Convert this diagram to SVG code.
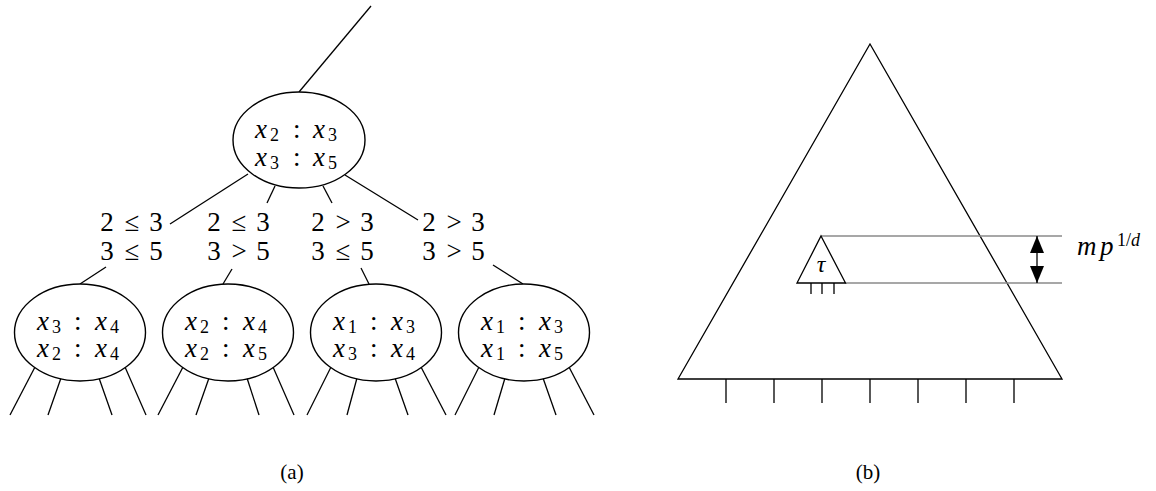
<svg xmlns="http://www.w3.org/2000/svg" width="1156" height="491" viewBox="0 0 1156 491">
<style>
.ln{stroke:#000;stroke-width:1.3;fill:none}
.el{stroke:#000;stroke-width:1.4;fill:#fff}
.gr{stroke:#8a8a8a;stroke-width:1.3;fill:none}
.t{font-family:"Liberation Serif","DejaVu Serif",serif;font-size:27px;fill:#000}
.v{font-style:italic}
.s{font-size:18px}
.c{font-family:"Liberation Serif","DejaVu Serif",serif;font-size:21px;fill:#000}
</style>
<defs>
<marker id="ah" viewBox="0 0 17 14" refX="17" refY="7" markerWidth="17" markerHeight="14" markerUnits="userSpaceOnUse" orient="auto-start-reverse">
<path d="M0,0 L17,7 L0,14 Z" fill="#000"/>
</marker>
</defs>
<g id="connectors">
<line class="ln" x1="371" y1="6" x2="299" y2="92"/>
<line class="ln" x1="248" y1="174" x2="170" y2="224"/>
<line class="ln" x1="275" y1="186" x2="267" y2="203"/>
<line class="ln" x1="323" y1="186" x2="332" y2="203"/>
<line class="ln" x1="345" y1="175" x2="418" y2="220"/>
<line class="ln" x1="106" y1="267" x2="80" y2="284"/>
<line class="ln" x1="232" y1="269" x2="223" y2="284"/>
<line class="ln" x1="361" y1="268" x2="369" y2="284"/>
<line class="ln" x1="493" y1="265" x2="523" y2="284"/>
<g id="leaves">
<line class="ln" x1="35" y1="367" x2="10" y2="415"/><line class="ln" x1="61" y1="378" x2="48" y2="415"/><line class="ln" x1="99" y1="378" x2="112" y2="415"/><line class="ln" x1="125" y1="367" x2="146" y2="415"/>
<line class="ln" x1="183" y1="367" x2="158" y2="415"/><line class="ln" x1="209" y1="378" x2="196" y2="415"/><line class="ln" x1="247" y1="378" x2="259" y2="415"/><line class="ln" x1="273" y1="367" x2="294" y2="415"/>
<line class="ln" x1="331" y1="367" x2="307" y2="415"/><line class="ln" x1="357" y1="378" x2="347" y2="415"/><line class="ln" x1="395" y1="378" x2="408" y2="415"/><line class="ln" x1="421" y1="367" x2="446" y2="415"/>
<line class="ln" x1="479" y1="367" x2="455" y2="415"/><line class="ln" x1="505" y1="378" x2="494" y2="415"/><line class="ln" x1="543" y1="378" x2="556" y2="415"/><line class="ln" x1="569" y1="367" x2="594" y2="415"/>
</g>
</g>
<g id="root">
<ellipse class="el" cx="299" cy="140" rx="66" ry="48"/>
<text class="t"><tspan class="v" x="255" y="138">x</tspan><tspan class="s" x="270" y="141">2</tspan><tspan x="293" y="138">:</tspan><tspan class="v" x="313" y="138">x</tspan><tspan class="s" x="328" y="141">3</tspan></text>
<text class="t"><tspan class="v" x="255" y="166">x</tspan><tspan class="s" x="270" y="169">3</tspan><tspan x="293" y="166">:</tspan><tspan class="v" x="313" y="166">x</tspan><tspan class="s" x="328" y="169">5</tspan></text>
</g>
<g id="label1" class="t" text-anchor="middle">
<text><tspan x="107" y="231">2</tspan><tspan x="132" y="231">≤</tspan><tspan x="156" y="231">3</tspan></text>
<text><tspan x="107" y="260">3</tspan><tspan x="132" y="260">≤</tspan><tspan x="156" y="260">5</tspan></text>
</g>
<g id="label2" class="t" text-anchor="middle">
<text><tspan x="214" y="231">2</tspan><tspan x="239" y="231">≤</tspan><tspan x="263" y="231">3</tspan></text>
<text><tspan x="214" y="260">3</tspan><tspan x="239" y="260">&gt;</tspan><tspan x="263" y="260">5</tspan></text>
</g>
<g id="label3" class="t" text-anchor="middle">
<text><tspan x="318" y="231">2</tspan><tspan x="343" y="231">&gt;</tspan><tspan x="367" y="231">3</tspan></text>
<text><tspan x="318" y="260">3</tspan><tspan x="343" y="260">≤</tspan><tspan x="367" y="260">5</tspan></text>
</g>
<g id="label4" class="t" text-anchor="middle">
<text><tspan x="429" y="231">2</tspan><tspan x="454" y="231">&gt;</tspan><tspan x="478" y="231">3</tspan></text>
<text><tspan x="429" y="260">3</tspan><tspan x="454" y="260">&gt;</tspan><tspan x="478" y="260">5</tspan></text>
</g>
<g id="child1">
<ellipse class="el" cx="80" cy="332.5" rx="65.5" ry="48.5"/>
<text class="t"><tspan class="v" x="37" y="330">x</tspan><tspan class="s" x="52" y="333">3</tspan><tspan x="74" y="330">:</tspan><tspan class="v" x="95" y="330">x</tspan><tspan class="s" x="110" y="333">4</tspan></text>
<text class="t"><tspan class="v" x="37" y="357">x</tspan><tspan class="s" x="52" y="360">2</tspan><tspan x="74" y="357">:</tspan><tspan class="v" x="95" y="357">x</tspan><tspan class="s" x="110" y="360">4</tspan></text>
</g>
<g id="child2">
<ellipse class="el" cx="228" cy="332.5" rx="65.5" ry="48.5"/>
<text class="t"><tspan class="v" x="185" y="330">x</tspan><tspan class="s" x="200" y="333">2</tspan><tspan x="222" y="330">:</tspan><tspan class="v" x="243" y="330">x</tspan><tspan class="s" x="258" y="333">4</tspan></text>
<text class="t"><tspan class="v" x="185" y="357">x</tspan><tspan class="s" x="200" y="360">2</tspan><tspan x="222" y="357">:</tspan><tspan class="v" x="243" y="357">x</tspan><tspan class="s" x="258" y="360">5</tspan></text>
</g>
<g id="child3">
<ellipse class="el" cx="376" cy="332.5" rx="65.5" ry="48.5"/>
<text class="t"><tspan class="v" x="333" y="330">x</tspan><tspan class="s" x="348" y="333">1</tspan><tspan x="370" y="330">:</tspan><tspan class="v" x="391" y="330">x</tspan><tspan class="s" x="406" y="333">3</tspan></text>
<text class="t"><tspan class="v" x="333" y="357">x</tspan><tspan class="s" x="348" y="360">3</tspan><tspan x="370" y="357">:</tspan><tspan class="v" x="391" y="357">x</tspan><tspan class="s" x="406" y="360">4</tspan></text>
</g>
<g id="child4">
<ellipse class="el" cx="524" cy="332.5" rx="65.5" ry="48.5"/>
<text class="t"><tspan class="v" x="481" y="330">x</tspan><tspan class="s" x="496" y="333">1</tspan><tspan x="518" y="330">:</tspan><tspan class="v" x="539" y="330">x</tspan><tspan class="s" x="554" y="333">3</tspan></text>
<text class="t"><tspan class="v" x="481" y="357">x</tspan><tspan class="s" x="496" y="360">1</tspan><tspan x="518" y="357">:</tspan><tspan class="v" x="539" y="357">x</tspan><tspan class="s" x="554" y="360">5</tspan></text>
</g>
<text id="caption-a" class="c" x="292" y="479" text-anchor="middle">(a)</text>
<g id="big-tree">
<path class="ln" d="M870,44 L1062,379 L678,379 Z"/>
<path class="ln" d="M726,379 V403 M774,379 V403 M822,379 V403 M870,379 V403 M918,379 V403 M966,379 V403 M1014,379 V403"/>
</g>
<g id="subtree">
<line class="gr" x1="821" y1="236" x2="1062" y2="236"/>
<line class="gr" x1="845" y1="283" x2="1062" y2="283"/>
<path class="ln" d="M821,236 L845.5,283 L797,283 Z"/>
<path class="ln" d="M811,283 V294 M822,283 V294 M834,283 V294"/>
<text class="t v" x="821" y="272" text-anchor="middle" style="font-size:24px">τ</text>
</g>
<g id="height-arrow">
<line class="ln" x1="1037" y1="258" x2="1037" y2="236" marker-end="url(#ah)"/>
<line class="ln" x1="1037" y1="258" x2="1037" y2="283" marker-end="url(#ah)"/>
<text class="t" y="255"><tspan class="v" x="1077">m</tspan><tspan class="v" x="1100">p</tspan><tspan class="s" x="1117" y="246">1/</tspan><tspan class="s v" y="246">d</tspan></text>
</g>
<text id="caption-b" class="c" x="868" y="479" text-anchor="middle">(b)</text>
</svg>
